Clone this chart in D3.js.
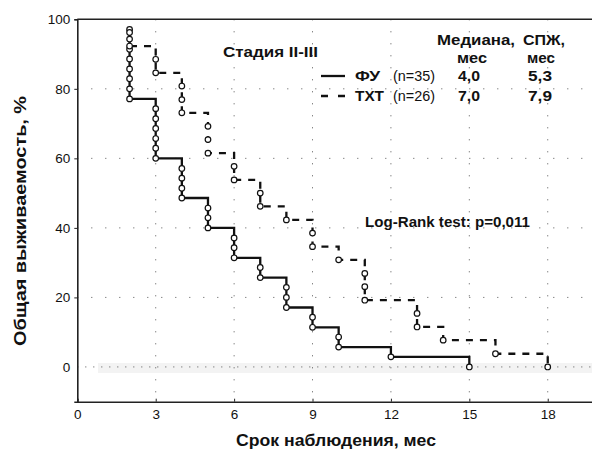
<!DOCTYPE html>
<html>
<head>
<meta charset="utf-8">
<script src="https://cdn.jsdelivr.net/npm/d3@7/dist/d3.min.js"></script>
<style>
  body { margin: 0; background: #fff; }
  text { font-family: "Liberation Sans", Arial, sans-serif; fill: #111; }
</style>
</head>
<body>
<script>
// ---- data ----
var fuTime = [2,2,2,2,2,2,2,2, 3,3,3,3,3,3, 4,4,4,4, 5,5,5, 6,6,6, 7,7, 8,8,8, 9,9, 10,10, 12, 15];
var fuSurv = [97.1,94.3,91.4,88.6,85.7,82.9,80.0,77.1, 74.3,71.4,68.6,65.7,62.9,60.0,
              57.1,54.3,51.4,48.6, 45.7,42.9,40.0, 37.1,34.3,31.4, 28.6,25.7,
              22.9,20.0,17.1, 14.3,11.4, 8.6,5.7, 2.9, 0];
var txtTime = [2,2, 3,3, 4,4,4, 5,5,5, 6,6, 7,7, 8, 9,9, 10, 11,11,11, 13,13, 14, 16, 18];
var txtSurv = [96.2,92.3, 88.5,84.6, 80.8,76.9,73.1, 69.2,65.4,61.5, 57.7,53.8, 50.0,46.2,
               42.3, 38.5,34.6, 30.8, 26.9,23.1,19.2, 15.4,11.5, 7.7, 3.8, 0];

var xTicks = [0, 3, 6, 9, 12, 15, 18];
var yTicks = [0, 20, 40, 60, 80, 100];
var groupNames = ["ФУ", "ТХТ"];
var groupN = ["(n=35)", "(n=26)"];
var medians = ["4,0", "7,0"];
var meanSurv = ["5,3", "7,9"];

// ---- layout ----
var width = 592, height = 451;
var plot = {left: 77.3, top: 19.3, right: 600, bottom: 401.7};

var svg = d3.select("body").append("svg")
  .attr("width", width)
  .attr("height", height);

var x = d3.scaleLinear().domain([0, 20]).range([plot.left, plot.right]);
var y = d3.scaleLinear().domain([-10, 100]).range([plot.bottom, plot.top]);

// helper: text stretched to the width it has in the picture
function label(tx, ty, str, size, bold, len, anchor) {
  var t = svg.append("text").attr("x", tx).attr("y", ty)
    .attr("font-size", size + "px")
    .attr("font-weight", bold ? "bold" : "normal")
    .attr("text-anchor", anchor || "start")
    .text(str);
  if (len) t.attr("textLength", len).attr("lengthAdjust", "spacingAndGlyphs");
  return t;
}

// faint grey band along the zero line
svg.append("rect")
  .attr("x", 98).attr("y", y(0) - 4)
  .attr("width", width - 98).attr("height", 10)
  .attr("fill", "#f3f3f3");

// dotted grid
xTicks.slice(1).forEach(function(t) {
  svg.append("line")
    .attr("x1", x(t)).attr("x2", x(t))
    .attr("y1", plot.top).attr("y2", plot.bottom)
    .attr("stroke", "#555").attr("stroke-width", 1)
    .attr("stroke-dasharray", "1,11");
});
yTicks.slice(0, -1).forEach(function(v) {
  svg.append("line")
    .attr("x1", plot.left).attr("x2", width)
    .attr("y1", y(v)).attr("y2", y(v))
    .attr("stroke", "#555").attr("stroke-width", 1)
    .attr("stroke-dasharray", v === 0 ? "1,7" : "1,13");
});

// axes
var xAxis = d3.axisBottom(x).tickValues(xTicks).tickSize(-3).tickPadding(8);
var gx = svg.append("g")
  .attr("transform", "translate(0," + plot.bottom + ")")
  .call(xAxis);
var yAxis = d3.axisLeft(y).tickValues(yTicks).tickSize(3).tickPadding(4);
var gy = svg.append("g")
  .attr("transform", "translate(" + plot.left + ",0)")
  .call(yAxis);
[gx, gy].forEach(function(g) {
  g.select(".domain").attr("stroke", "#222").attr("stroke-width", 1.6);
  g.selectAll(".tick line").attr("stroke", "#222");
  g.selectAll(".tick text").attr("font-size", "13.5px")
    .attr("font-family", "Liberation Sans, Arial, sans-serif").attr("fill", "#111");
});
gy.select(".tick:first-of-type").select("line").remove();
// top frame
svg.append("line")
  .attr("x1", plot.left).attr("x2", width)
  .attr("y1", plot.top).attr("y2", plot.top)
  .attr("stroke", "#222").attr("stroke-width", 1.6);

// survival curves
function pts(times, surv) {
  return times.map(function(t, i) { return [t, surv[i]]; });
}
var line = d3.line()
  .x(function(d) { return x(d[0]); })
  .y(function(d) { return y(d[1]); })
  .curve(d3.curveStepAfter);

var groups = [
  {data: pts(fuTime, fuSurv), dash: null},
  {data: pts(txtTime, txtSurv), dash: "7,7"}
];
groups.forEach(function(g) {
  svg.append("path")
    .datum(g.data)
    .attr("d", line)
    .attr("fill", "none")
    .attr("stroke", "#111")
    .attr("stroke-width", 2.3)
    .attr("stroke-dasharray", g.dash);
});
groups.forEach(function(g) {
  svg.selectAll(null)
    .data(g.data)
    .enter().append("circle")
    .attr("cx", function(d) { return x(d[0]); })
    .attr("cy", function(d) { return y(d[1]); })
    .attr("r", 2.8)
    .attr("fill", "#fff")
    .attr("stroke", "#111")
    .attr("stroke-width", 1.2);
});

// annotations
label(223, 57, "Стадия II-III", 14, true, 95);

label(437, 45, "Медиана,", 14, true, 78);
label(457, 63, "мес", 14, true, 30);
label(523, 45, "СПЖ,", 14, true, 42);
label(527, 63, "мес", 14, true, 28);

var rowY = [81, 101];
groupNames.forEach(function(name, i) {
  var ly = rowY[i] - 5;
  svg.append("line")
    .attr("x1", 321).attr("x2", 345).attr("y1", ly).attr("y2", ly)
    .attr("stroke", "#111").attr("stroke-width", 2.3)
    .attr("stroke-dasharray", i === 0 ? null : "7,10");
  label(355, rowY[i], name, 14, true, i === 0 ? 25 : 29);
  label(393, rowY[i], groupN[i], 14, false, 42);
  label(458, rowY[i], medians[i], 14, true, 22);
  label(528, rowY[i], meanSurv[i], 14, true, 24);
});

label(365, 227, "Log-Rank test: p=0,011", 14, true, 165);

// axis titles
label(336, 446, "Срок наблюдения, мес", 17, true, 200, "middle");
label(0, 0, "Общая выживаемость, %", 17, true, 250, "middle")
  .attr("x", null).attr("y", null)
  .attr("transform", "translate(26,221) rotate(-90)");
</script>
</body>
</html>
